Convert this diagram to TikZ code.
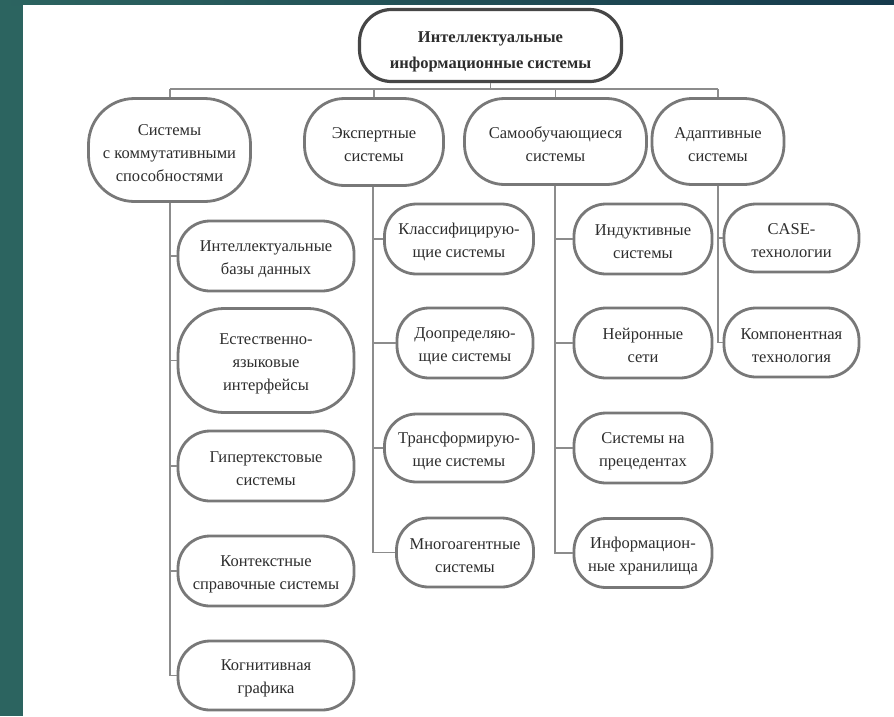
\documentclass[tikz,border=0pt]{standalone}
\usepackage{fontspec}
\setmainfont{Liberation Serif}
\definecolor{bgteal}{RGB}{44,100,96}
\definecolor{bgblue}{RGB}{22,58,76}
\definecolor{boxgray}{RGB}{120,120,120}
\definecolor{topgray}{RGB}{70,70,70}
\definecolor{linegray}{RGB}{140,140,140}
\definecolor{txt}{RGB}{45,45,45}
\newcommand{\dn}{\rule{0pt}{17pt}}
\newcommand{\dnn}{\rule{0pt}{23pt}}
\begin{document}
\begin{tikzpicture}[x=1pt,y=-1pt,
  box/.style={draw=boxgray, line width=2.8pt, rounded corners=32pt, fill=white,
    align=center, text=txt, font=\fontsize{16.5}{23}\selectfont, inner sep=0pt},
  midbox/.style={box, rounded corners=40pt},
  bigbox/.style={box, rounded corners=46pt},
  topbox/.style={box, draw=topgray, line width=3.2pt, rounded corners=32pt,
    font=\bfseries\fontsize{16.5}{26}\selectfont},
  conn/.style={draw=linegray, line width=1.4pt}]
\useasboundingbox (0,0) rectangle (894,716);
% background
\fill[bgteal] (0,0) rectangle (894,716);
\shade[left color=bgteal, right color=bgblue] (0,0) rectangle (894,5);
\fill[white] (23,5) rectangle (894,716);

% top
\node[topbox, minimum width=262pt, minimum height=72pt] (top) at (490.5,45.5) {\dnn Интеллектуальные\\информационные системы};

% level 2
\node[bigbox, minimum width=162pt, minimum height=103pt] (sys) at (169.5,150) {\dn Системы\\с коммутативными\\способностями};
\node[midbox, minimum width=139pt, minimum height=87pt] (exp) at (374,142) {\dn Экспертные\\системы};
\node[midbox, minimum width=182pt, minimum height=86pt] (self) at (555.5,141.5) {\dn Самообучающиеся\\системы};
\node[midbox, minimum width=132pt, minimum height=86pt] (adapt) at (718,141.5) {\dn Адаптивные\\системы};

% column 1
\node[box, minimum width=176pt, minimum height=70pt] (ibd) at (266,256) {\dn Интеллектуальные\\базы данных};
\node[bigbox, minimum width=176pt, minimum height=104pt] (nli) at (266,360.5) {\dn Естественно-\\языковые\\интерфейсы};
\node[box, minimum width=176pt, minimum height=70pt] (hyp) at (266,466) {\dn Гипертекстовые\\системы};
\node[box, minimum width=176pt, minimum height=70pt] (ctx) at (266,571) {\dn Контекстные\\справочные системы};
\node[box, minimum width=176pt, minimum height=69pt] (kog) at (266,675.5) {\dn Когнитивная\\графика};

% column 2
\node[box, minimum width=149pt, minimum height=70pt] (cls) at (459,239) {\dn Классифицирую-\\щие системы};
\node[box, minimum width=136pt, minimum height=70pt] (dop) at (465,343) {\dn Доопределяю-\\щие системы};
\node[box, minimum width=149pt, minimum height=68pt] (trf) at (459,448) {\dn Трансформирую-\\щие системы};
\node[box, minimum width=137pt, minimum height=69pt] (mag) at (465,552.5) {\dn Многоагентные\\системы};

% column 3
\node[box, minimum width=138pt, minimum height=70pt] (ind) at (643,239) {\dn Индуктивные\\системы};
\node[box, minimum width=138pt, minimum height=70pt] (neu) at (643,343) {\dn Нейронные\\сети};
\node[box, minimum width=138pt, minimum height=70pt] (prc) at (643,448) {\dn Системы на\\прецедентах};
\node[box, minimum width=138pt, minimum height=69pt] (inf) at (643,553) {\dn Информацион-\\ные хранилища};

% column 4
\node[box, minimum width=135pt, minimum height=68pt] (case) at (791.5,238) {\dn CASE-\\технологии};
\node[box, minimum width=135pt, minimum height=69pt] (comp) at (791.5,342.5) {\dn Компонентная\\технология};

% connectors
\coordinate (busL) at (170,89);
\coordinate (busR) at (718,89);
\draw[conn] (busL) -- (busR);
\draw[conn] (top.south) -- (top.south |- busL);
\draw[conn] (busL) -- (busL |- sys.north);
\draw[conn] (exp.north) -- (exp.north |- busL);
\draw[conn] (self.north) -- (self.north |- busL);
\draw[conn] (busR) -- (busR |- adapt.north);

\coordinate (c1) at (170,0);
\draw[conn] (c1 |- sys.south) |- (kog.west);
\draw[conn] (c1 |- ibd.west) -- (ibd.west);
\draw[conn] (c1 |- nli.west) -- (nli.west);
\draw[conn] (c1 |- hyp.west) -- (hyp.west);
\draw[conn] (c1 |- ctx.west) -- (ctx.west);

\coordinate (c2) at (373,0);
\draw[conn] (c2 |- exp.south) |- (mag.west);
\draw[conn] (c2 |- cls.west) -- (cls.west);
\draw[conn] (c2 |- dop.west) -- (dop.west);
\draw[conn] (c2 |- trf.west) -- (trf.west);

\coordinate (c3) at (555,0);
\draw[conn] (c3 |- self.south) |- (inf.west);
\draw[conn] (c3 |- ind.west) -- (ind.west);
\draw[conn] (c3 |- neu.west) -- (neu.west);
\draw[conn] (c3 |- prc.west) -- (prc.west);

\coordinate (c4) at (718,0);
\draw[conn] (c4 |- adapt.south) |- (comp.west);
\draw[conn] (c4 |- case.west) -- (case.west);
\end{tikzpicture}
\end{document}
